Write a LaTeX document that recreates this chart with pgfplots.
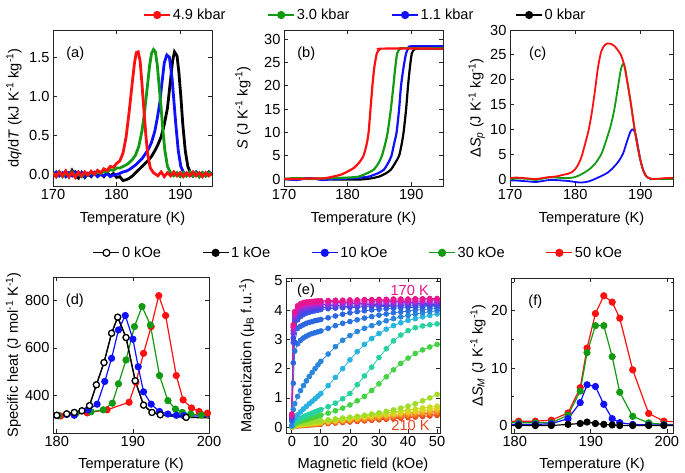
\documentclass[border=0pt]{standalone}
\usepackage{pgfplots}
\pgfplotsset{compat=1.18}
\usepackage{pgfplotstable}
\usepackage{fontspec}
\setmainfont{Liberation Sans}
\newcommand{\fs}{\fontsize{14.6}{16}\selectfont}
\definecolor{cr}{HTML}{FF1010}
\definecolor{cg}{HTML}{129A12}
\definecolor{cb}{HTML}{1010FF}
\definecolor{c170}{HTML}{E6168C}
\definecolor{c172}{HTML}{D81EB4}
\definecolor{c174}{HTML}{B428D2}
\definecolor{c176}{HTML}{8C32DC}
\definecolor{c178}{HTML}{6A3CE6}
\definecolor{c180}{HTML}{4646E6}
\definecolor{c182}{HTML}{3A55E6}
\definecolor{c184}{HTML}{2D64E1}
\definecolor{c186}{HTML}{2A72E0}
\definecolor{c188}{HTML}{2A86DC}
\definecolor{c190}{HTML}{28B4E0}
\definecolor{c192}{HTML}{28D2A0}
\definecolor{c194}{HTML}{46D246}
\definecolor{c196}{HTML}{A0DC28}
\definecolor{c198}{HTML}{C8DC1E}
\definecolor{c200}{HTML}{E6D21E}
\definecolor{c202}{HTML}{F0B41E}
\definecolor{c204}{HTML}{F0961E}
\definecolor{c206}{HTML}{F0781E}
\definecolor{c208}{HTML}{F05A1E}
\definecolor{c210}{HTML}{E6461E}

\pgfplotstableread{
H T170 T172 T174 T176 T178 T180 T182 T184 T186 T188 T190 T192 T194 T196 T198 T200 T202 T204 T206 T208 T210
0 0.45 0.42 0.40 0.38 0.35 0.32 0.30 0.28 0.20 0.05 0.05 0.03 0.02 0.02 0.01 0.01 0.01 0.01 0.01 0.01 0.01
0.5 3.50 3.45 3.40 3.30 3.20 3.05 2.90 2.20 1.50 0.60 0.22 0.12 0.08 0.05 0.040 0.040 0.036 0.033 0.030 0.027 0.024
1 3.95 3.90 3.85 3.78 3.70 3.60 3.45 2.90 2.60 0.80 0.30 0.18 0.12 0.07 0.064 0.058 0.053 0.049 0.044 0.040 0.035
2 4.15 4.10 4.05 3.98 3.90 3.80 3.67 3.38 2.85 1.05 0.42 0.25 0.17 0.10 0.077 0.071 0.064 0.059 0.054 0.048 0.043
3 4.22 4.17 4.12 4.06 3.99 3.90 3.78 3.45 2.97 1.25 0.52 0.30 0.20 0.12 0.091 0.083 0.075 0.069 0.063 0.057 0.050
4 4.26 4.21 4.16 4.10 4.04 3.96 3.85 3.50 3.05 1.42 0.62 0.35 0.23 0.14 0.104 0.095 0.087 0.079 0.072 0.065 0.058
5 4.28 4.23 4.19 4.14 4.08 4.00 3.90 3.55 3.11 1.58 0.71 0.40 0.26 0.15 0.117 0.108 0.098 0.090 0.082 0.073 0.065
6 4.29 4.24 4.20 4.15 4.10 4.02 3.93 3.58 3.16 1.73 0.80 0.44 0.29 0.17 0.131 0.120 0.109 0.100 0.091 0.082 0.073
7 4.30 4.25 4.21 4.16 4.11 4.04 3.96 3.61 3.20 1.87 0.88 0.48 0.32 0.18 0.144 0.132 0.120 0.110 0.100 0.090 0.080
8 4.31 4.26 4.22 4.17 4.12 4.06 3.98 3.64 3.23 2.00 0.97 0.52 0.35 0.20 0.158 0.144 0.131 0.120 0.109 0.098 0.088
9 4.32 4.27 4.23 4.18 4.13 4.07 4.00 3.66 3.26 2.13 1.06 0.56 0.38 0.21 0.171 0.157 0.142 0.131 0.119 0.107 0.095
10 4.32 4.28 4.24 4.19 4.14 4.08 4.02 3.68 3.29 2.25 1.15 0.60 0.41 0.22 0.184 0.169 0.154 0.141 0.128 0.115 0.102
12.5 4.33 4.29 4.25 4.20 4.15 4.10 4.05 3.74 3.38 2.50 1.42 0.70 0.48 0.25 0.218 0.200 0.182 0.166 0.151 0.136 0.121
15 4.34 4.30 4.26 4.21 4.16 4.11 4.07 3.80 3.47 2.75 1.70 0.82 0.56 0.28 0.251 0.230 0.209 0.192 0.175 0.157 0.140
17.5 4.34 4.30 4.26 4.22 4.17 4.12 4.08 3.86 3.55 2.97 2.00 0.97 0.65 0.31 0.285 0.261 0.237 0.218 0.198 0.178 0.158
20 4.35 4.31 4.27 4.22 4.18 4.13 4.09 3.91 3.61 3.13 2.30 1.15 0.76 0.34 0.318 0.292 0.265 0.243 0.221 0.199 0.177
22.5 4.35 4.31 4.27 4.23 4.18 4.14 4.10 3.95 3.67 3.27 2.58 1.45 0.90 0.37 0.352 0.322 0.293 0.269 0.244 0.220 0.195
25 4.36 4.32 4.28 4.23 4.19 4.14 4.11 3.98 3.73 3.38 2.83 1.75 1.05 0.41 0.385 0.353 0.321 0.294 0.268 0.241 0.214
27.5 4.36 4.32 4.28 4.24 4.19 4.15 4.12 4.01 3.78 3.47 3.03 2.05 1.25 0.45 0.419 0.384 0.349 0.320 0.291 0.262 0.233
30 4.37 4.33 4.29 4.24 4.20 4.16 4.12 4.03 3.83 3.56 3.20 2.38 1.48 0.49 0.452 0.414 0.377 0.345 0.314 0.283 0.251
32.5 4.37 4.33 4.29 4.25 4.20 4.16 4.13 4.05 3.87 3.64 3.35 2.68 1.72 0.54 0.486 0.445 0.405 0.371 0.337 0.304 0.270
35 4.38 4.34 4.30 4.25 4.21 4.17 4.13 4.07 3.91 3.71 3.47 2.95 1.96 0.59 0.519 0.476 0.433 0.397 0.361 0.324 0.288
37.5 4.38 4.34 4.30 4.26 4.21 4.17 4.14 4.08 3.94 3.77 3.57 3.15 2.18 0.65 0.553 0.507 0.461 0.422 0.384 0.345 0.307
40 4.38 4.34 4.30 4.26 4.22 4.18 4.14 4.09 3.97 3.82 3.65 3.30 2.36 0.72 0.586 0.537 0.488 0.448 0.407 0.366 0.326
42.5 4.39 4.35 4.31 4.27 4.22 4.18 4.15 4.10 4.00 3.87 3.71 3.40 2.52 0.80 0.620 0.568 0.516 0.473 0.430 0.387 0.344
45 4.39 4.35 4.31 4.27 4.23 4.19 4.15 4.11 4.02 3.91 3.77 3.46 2.64 0.90 0.653 0.599 0.544 0.499 0.454 0.408 0.363
47.5 4.40 4.36 4.32 4.28 4.23 4.19 4.16 4.12 4.04 3.95 3.82 3.50 2.74 1.00 0.687 0.629 0.572 0.524 0.477 0.429 0.381
50 4.40 4.36 4.32 4.28 4.24 4.20 4.16 4.12 4.06 3.98 3.87 3.53 2.83 1.12 0.72 0.66 0.60 0.55 0.50 0.45 0.40
}\tableE

\pgfplotsset{
  panel/.style={
    scale only axis, anchor=south west,
    tick align=inside, major tick length=4pt, minor tick length=2.5pt,
    axis line style={line width=0.8pt, black!85},
    every tick/.append style={line width=0.8pt, black!85},
    tick label style={font=\fs},
    label style={font=\fs},
    /pgf/number format/assume math mode=true,
    xlabel style={at={(axis description cs:0.5,0)}, anchor=base, yshift=-37pt},
    legend style={font=\fs},
  },
  toplegend/.style={
    legend image code/.code={\draw[mark repeat=2,mark phase=2,##1] plot coordinates {(0pt,0pt) (13pt,0pt) (26pt,0pt)};},
    legend columns=-1,
    legend style={draw=none, fill=none, inner xsep=0pt, inner ysep=0pt, anchor=center,
      nodes={inner xsep=2pt, inner ysep=1pt},
      /tikz/every even column/.append style={column sep=#1}},
  },
}

\begin{document}
\begin{tikzpicture}
\path[use as bounding box] (0pt,0pt) rectangle (685pt,473pt);

% ---------------- (a)
\begin{axis}[panel, at={(53pt,287pt)}, width=159pt, height=156pt,
  xmin=170, xmax=195, ymin=-0.15, ymax=1.85,
  xtick={170,180,190}, ytick={0,0.5,1,1.5},
  yticklabel style={/pgf/number format/.cd, fixed, fixed zerofill, precision=1},
  xlabel={Temperature (K)},
  ylabel={d\textit{q}/d\textit{T} (kJ K\textsuperscript{-1} kg\textsuperscript{-1})},
  ylabel style={at={(axis description cs:-0.245,0.5)}, anchor=center},
  toplegend=40pt,
  legend style={at={(axis description cs:1.965,1.096)}},
]
\addlegendimage{cr, line width=1.2pt, mark=*, mark size=3.5pt}
\addlegendentry{4.9 kbar}
\addlegendimage{cg, line width=1.2pt, mark=*, mark size=3.5pt}
\addlegendentry{3.0 kbar}
\addlegendimage{cb, line width=1.2pt, mark=*, mark size=3.5pt}
\addlegendentry{1.1 kbar}
\addlegendimage{black, line width=1.2pt, mark=*, mark size=3.5pt}
\addlegendentry{0 kbar}
\addplot[black, line width=2.8pt, forget plot] coordinates {(170,0.01)(170.5,-0.03)(171,0.03)(171.5,-0.02)(172,0.04)(172.5,-0.03)(173,0.05)(173.5,-0.02)(174,-0.05)(174.5,0.02)(175,-0.04)(175.5,0.01)(176,-0.03)(176.5,0.02)(177,-0.02)(177.5,0.01)(178,-0.03)(178.5,0.02)(179,-0.02)(179.5,0.01)(180,-0.04)(180.5,-0.03)(181,-0.08)(181.5,-0.07)(182,-0.05)(182.5,-0.02)(183,0.02)(183.5,0.06)(184,0.1)(184.5,0.14)(185,0.18)(185.5,0.23)(186,0.3)(186.5,0.38)(187,0.48)(187.5,0.64)(188,0.85)(188.4,1.15)(188.8,1.45)(189.1,1.57)(189.5,1.52)(189.8,1.3)(190.1,1.0)(190.4,0.65)(190.8,0.3)(191.2,0.1)(191.6,0.02)(192,-0.02)(192.5,0.02)(193,-0.03)(193.5,0.02)(194,-0.02)(194.5,0.03)(195,0)};
\addplot[cb, line width=2.8pt, forget plot] coordinates {(170,0.0)(170.5,0.03)(171,-0.02)(171.5,0.02)(172,-0.03)(172.5,0.02)(173,-0.02)(173.5,0.03)(174,-0.01)(174.5,0.02)(175,-0.03)(175.5,0.01)(176,-0.02)(176.5,0.02)(177,-0.03)(177.5,0.0)(178,-0.02)(178.5,0.01)(179,-0.03)(179.5,-0.01)(180,0.0)(180.5,0.01)(181,0.03)(181.5,0.04)(182,0.06)(182.5,0.09)(183,0.12)(183.5,0.16)(184,0.2)(184.5,0.26)(185,0.32)(185.5,0.41)(186,0.55)(186.4,0.72)(186.8,0.92)(187.1,1.15)(187.5,1.43)(187.9,1.53)(188.3,1.5)(188.7,1.25)(189,0.95)(189.3,0.65)(189.7,0.3)(190.1,0.1)(190.6,0.01)(191,-0.02)(191.5,0.02)(192,-0.02)(192.5,0.03)(193,-0.01)(193.5,0.02)(194,-0.02)(194.5,0.02)(195,0.0)};
\addplot[cg, line width=2.8pt, forget plot] coordinates {(170,0.02)(170.5,-0.02)(171,0.03)(171.5,-0.03)(172,0.02)(172.5,-0.02)(173,0.03)(173.5,-0.02)(174,0.01)(174.5,-0.03)(175,0.02)(175.5,-0.01)(176,0.03)(176.5,0.0)(177,0.03)(177.5,0.01)(178,0.04)(178.5,0.03)(179,0.06)(179.5,0.05)(180,0.08)(180.5,0.08)(181,0.1)(181.5,0.12)(182,0.15)(182.5,0.19)(183,0.25)(183.5,0.36)(184,0.56)(184.4,0.8)(184.8,1.1)(185.2,1.4)(185.5,1.55)(185.8,1.6)(186.1,1.57)(186.4,1.4)(186.7,1.12)(187,0.85)(187.3,0.55)(187.6,0.3)(188,0.1)(188.5,0.02)(189,-0.02)(189.5,0.02)(190,-0.03)(190.5,0.02)(191,-0.02)(191.5,0.03)(192,-0.02)(192.5,0.02)(193,-0.03)(193.5,0.02)(194,-0.02)(194.5,0.02)(195,0.0)};
\addplot[cr, line width=2.8pt, forget plot] coordinates {(170,0.02)(170.5,-0.03)(171,0.03)(171.5,-0.02)(172,0.04)(172.5,-0.03)(173,0.02)(173.5,-0.04)(174,0.03)(174.5,-0.02)(175,0.03)(175.5,-0.01)(176,0.04)(176.5,0.0)(177,0.05)(177.5,0.02)(178,0.07)(178.5,0.05)(179,0.1)(179.5,0.09)(180,0.14)(180.5,0.17)(181,0.27)(181.5,0.48)(182,0.82)(182.5,1.2)(182.8,1.42)(183.1,1.56)(183.4,1.57)(183.7,1.45)(184,1.15)(184.3,0.82)(184.6,0.5)(184.9,0.25)(185.3,0.08)(185.8,0.02)(186.5,-0.02)(187,0.03)(187.5,-0.03)(188,0.02)(188.5,-0.02)(189,0.03)(189.5,-0.02)(190,0.02)(190.5,-0.03)(191,0.02)(191.5,-0.02)(192,0.03)(192.5,-0.02)(193,0.02)(193.5,-0.03)(194,0.02)(194.5,-0.02)(195,0.01)};
\node[font=\fs] at (rel axis cs:0.14,0.85) {(a)};
\end{axis}

% ---------------- (b)
\begin{axis}[panel, at={(284pt,287pt)}, width=159pt, height=156pt,
  xmin=170, xmax=195, ymin=-1.5, ymax=32,
  xtick={170,180,190}, ytick={0,5,...,30},
  xlabel={Temperature (K)},
  ylabel={\textit{S} (J K\textsuperscript{-1} kg\textsuperscript{-1})},
  ylabel style={at={(axis description cs:-0.258,0.5)}, anchor=center},
]
\addplot[black, line width=2.2pt, smooth, tension=0.4] coordinates {(170,0)(174,0.1)(176,0)(178,-0.1)(180,-0.1)(182,-0.1)(183.5,0.1)(184.9,0.5)(186,1.2)(186.8,2)(187.5,3.5)(188.1,5)(188.5,7.5)(188.8,10)(189.2,15)(189.5,20)(189.8,24)(190.1,27)(190.5,27.8)(191,28)(195,28)};
\addplot[cb, line width=2.2pt, smooth, tension=0.4] coordinates {(170,0)(172,-0.2)(174,0.2)(176,-0.2)(178,0)(180,0.1)(182,0.3)(183.3,0.5)(184.7,1.2)(185.7,2)(186.4,3.5)(186.9,5)(187.3,7.5)(187.7,10)(188.1,15)(188.4,20)(188.8,24)(189.2,27)(189.6,28.2)(190,28.5)(195,28.5)};
\addplot[cg, line width=2.2pt, smooth, tension=0.4] coordinates {(170,0)(172,0.2)(174,0)(176,0.1)(178,0.2)(180,0.3)(181.7,0.5)(183,1.2)(184.1,2)(184.9,3.5)(185.4,5)(185.9,7.5)(186.3,10)(186.8,15)(187.2,20)(187.5,24)(187.8,27)(188.2,27.9)(188.6,28.1)(195,28.1)};
\addplot[cr, line width=2.2pt, smooth, tension=0.4] coordinates {(170,0)(172,0)(174,0.1)(176,0.1)(177,0.3)(178,0.6)(179,0.95)(180,1.6)(181,2.4)(181.8,3.5)(182.5,5)(183,7.5)(183.3,10)(183.6,15)(183.9,20)(184.2,24)(184.6,27)(185,27.8)(185.5,28)(195,28)};
\node[font=\fs] at (rel axis cs:0.14,0.85) {(b)};
\end{axis}

% ---------------- (c)
\begin{axis}[panel, at={(510pt,287pt)}, width=163pt, height=156pt,
  xmin=170, xmax=195, ymin=-1.4, ymax=30,
  xtick={170,180,190}, ytick={0,5,...,30},
  xlabel={Temperature (K)},
  ylabel={Δ\textit{S}\textsubscript{\textit{p}} (J K\textsuperscript{-1} kg\textsuperscript{-1})},
  ylabel style={at={(axis description cs:-0.204,0.5)}, anchor=center},
]
\addplot[cb, line width=1.8pt, smooth] coordinates {(170,-0.3)(171,-0.3)(172,-0.4)(173,-0.5)(174,-0.6)(175,-0.4)(176,-0.2)(177,-0.2)(178,-0.3)(179,-0.4)(180,-0.6)(181,-0.7)(182,-0.5)(183,0)(184,0.6)(185,1.3)(185.6,2)(186.5,3.3)(187.3,5)(188,7.8)(188.5,9.6)(188.9,10)(189.3,8.8)(189.7,6)(190,3.8)(190.5,1.5)(191,0.4)(191.5,0.1)(192,0)(195,0)};
\addplot[cg, line width=1.8pt, smooth] coordinates {(170,0)(171,0.1)(172,0.1)(173,0)(174,-0.2)(175,0.1)(176,0.3)(177,0.3)(178,0.2)(179,0.2)(180,0.4)(181,1.0)(182,1.8)(183,3.0)(184,5.0)(184.5,6.8)(185,8.8)(185.5,11)(186,14)(186.5,18)(187,22)(187.4,23.3)(187.7,22)(188,19.5)(188.5,15.5)(189,11)(189.5,7)(190,3.8)(190.5,1.5)(191,0.4)(191.5,0.1)(192,0)(195,0)};
\addplot[cr, line width=1.8pt, smooth] coordinates {(170,0.2)(171,0.3)(172,0.2)(173,0.1)(174,0.0)(175,0.2)(176,0.4)(177,0.5)(178,0.8)(179,1.1)(179.5,1.4)(180,2.0)(180.5,3.0)(181,4.6)(181.5,7.0)(182,9.5)(182.5,13)(183,17.5)(183.5,22.5)(184,25.7)(184.5,26.9)(185,27.3)(185.5,27.2)(186,26.8)(186.5,26)(187,25)(187.5,23)(188,19.5)(188.5,15.5)(189,11)(189.5,7)(190,3.8)(190.5,1.5)(191,0.4)(191.5,0.1)(192,0)(193,0.1)(194,0.2)(195,0.2)};
\node[font=\fs] at (rel axis cs:0.17,0.85) {(c)};
\end{axis}

% ---------------- (d)
\begin{axis}[panel, at={(53pt,40pt)}, width=156pt, height=156pt,
  xmin=179.5, xmax=200, ymin=240, ymax=900,
  xtick={180,190,200}, ytick={400,600,800},
  xlabel={Temperature (K)}, xlabel style={yshift=1pt},
  ylabel={Specific heat (J mol\textsuperscript{-1} K\textsuperscript{-1})},
  ylabel style={at={(axis description cs:-0.254,0.5)}, anchor=center},
  toplegend=39pt,
  legend style={at={(axis description cs:1.958,1.155)}},
  every axis plot/.append style={line width=1.2pt, mark=*, mark size=3pt},
]
\addlegendimage{black, line width=1.2pt, mark=*, mark size=3.5pt, mark options={fill=white}}
\addlegendentry{0 kOe}
\addlegendimage{black, line width=1.2pt, mark=*, mark size=3.5pt}
\addlegendentry{1 kOe}
\addlegendimage{cb, line width=1.2pt, mark=*, mark size=3.5pt}
\addlegendentry{10 kOe}
\addlegendimage{cg, line width=1.2pt, mark=*, mark size=3.5pt}
\addlegendentry{30 kOe}
\addlegendimage{cr, line width=1.2pt, mark=*, mark size=3.5pt}
\addlegendentry{50 kOe}
\addplot[cr, forget plot] coordinates {(180.5,312)(184,325)(186.6,338)(189.5,370)(190.4,455)(191.4,577)(192.4,690)(193.4,821)(194.3,737)(195.7,483)(196.6,380)(197.7,346)(198.7,331)(199.8,324)};
\addplot[cg, forget plot] coordinates {(180.2,313)(182.5,322)(184.5,330)(186.1,338)(187.3,366)(188.1,448)(189.1,549)(190.2,690)(191.2,775)(192.3,697)(193.5,483)(194.6,377)(195.6,341)(196.5,327)(197.6,320)(199,316)(201,314)};
\addplot[cb, forget plot] coordinates {(180.0,314)(181.3,318)(182.3,315)(184.1,338)(185.3,362)(186.3,458)(187.2,556)(188.1,676)(189.0,737)(190.0,637)(190.7,520)(191.4,414)(192.4,362)(193.5,331)(194.6,320)(195.7,315)(196.7,313)(201,310)};
\addplot[black, forget plot] coordinates {(180.0,315)(181.3,321)(182.3,327)(183.3,334)(184.3,356)(185.2,444)(186.2,538)(187.2,662)(188.0,730)(189.1,644)(190.3,461)(191.4,358)(192.5,327)(193.6,317)(197.0,306)(201,303)};
\addplot[black, mark options={fill=white}, forget plot] coordinates {(180.0,315)(181.3,321)(182.3,327)(183.3,334)(184.3,356)(185.2,444)(186.2,538)(187.2,662)(188.0,730)(189.1,644)(190.3,461)(191.4,358)(192.5,327)(193.6,317)(197.0,306)};
\node[font=\fs] at (rel axis cs:0.14,0.85) {(d)};
\end{axis}

% ---------------- (e)
\begin{axis}[panel, at={(286pt,40pt)}, width=154pt, height=155pt,
  xmin=-2, xmax=51, ymin=-0.2, ymax=5.1,
  xtick={0,10,...,50}, ytick={0,1,...,5},
  xlabel={Magnetic field (kOe)}, xlabel style={yshift=1pt},
  ylabel={Magnetization (μ\textsubscript{B} f.u.\textsuperscript{-1})},
  ylabel style={at={(axis description cs:-0.255,0.5)}, anchor=center},
]
\pgfplotsinvokeforeach{210,208,206,204,202,200,198,196,194,192,190,188,186,184,182,180,178,176,174,172,170}{
  \addplot[color=c#1, line width=0.8pt, mark=*, mark size=2.4pt] table[x=H, y=T#1] {\tableE};
}
\node[font=\fs] at (rel axis cs:0.13,0.92) {(e)};
\node[font=\fs, text=c170, anchor=east] at (rel axis cs:0.95,0.92) {170 K};
\node[font=\fs, text=c210, anchor=base east] at (rel axis cs:0.955,0.015) {210 K};
\end{axis}

% ---------------- (f)
\begin{axis}[panel, at={(511pt,40pt)}, width=162pt, height=155pt,
  xmin=179.5, xmax=200.8, ymin=-1.3, ymax=25.7,
  xtick={180,190,200}, ytick={0,10,20}, minor ytick={5,15,25},
  xlabel={Temperature (K)}, xlabel style={yshift=1pt},
  ylabel={Δ\textit{S}\textsubscript{\textit{M}} (J K\textsuperscript{-1} kg\textsuperscript{-1})},
  ylabel style={at={(axis description cs:-0.204,0.5)}, anchor=center},
  every axis plot/.append style={line width=1.2pt, mark=*, mark size=3pt},
]
\addplot[cr] coordinates {(178,0.76)(180.5,0.76)(182.7,0.76)(184.8,0.93)(187.0,2.2)(188.6,6.6)(189.5,13.5)(190.6,19.5)(191.7,22.6)(192.8,21.5)(193.8,18.7)(195.5,9.7)(197.6,2.1)(199.6,0.76)(202,0.6)};
\addplot[cg] coordinates {(178,0.47)(180.5,0.47)(182.7,0.47)(184.8,0.47)(187.0,1.8)(188.6,6.0)(189.5,12.7)(190.6,17.4)(191.7,17.4)(192.8,12.0)(193.8,5.8)(195.5,1.6)(197.6,0.47)(199.6,0.2)(202,0.2)};
\addplot[cb] coordinates {(178,0.2)(180.5,0.2)(182.7,0.2)(184.8,0.3)(187.0,1.2)(188.6,4.0)(189.5,7.1)(190.6,6.8)(191.7,3.7)(192.8,1.2)(193.8,0.5)(195.5,0.2)(197.6,0.1)(199.6,0.1)(202,0.1)};
\addplot[black] coordinates {(178,0)(180.5,0)(182.7,0)(184.8,0)(187.0,0.2)(188.6,0.35)(189.5,0.6)(190.6,0.35)(191.7,0.2)(192.8,0.1)(193.8,0)(195.5,0)(197.6,0)(199.6,0)(202,0)};
\node[font=\fs] at (rel axis cs:0.15,0.85) {(f)};
\end{axis}
\end{tikzpicture}
\end{document}
